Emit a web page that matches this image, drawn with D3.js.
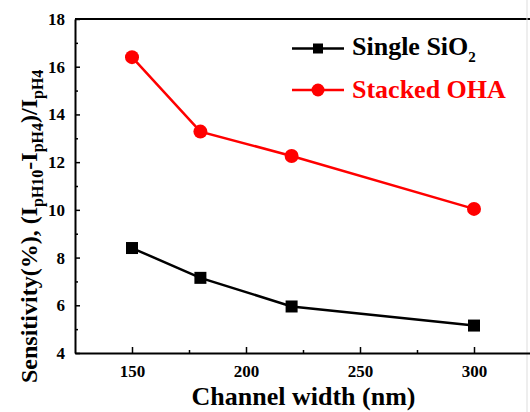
<!DOCTYPE html>
<html><head><meta charset="utf-8">
<script src="https://cdn.jsdelivr.net/npm/d3@7"></script>
<style>
html,body{margin:0;padding:0;background:#fff;}
svg text{font-family:"Liberation Serif","Times New Roman",Tinos,"DejaVu Serif",serif !important;font-weight:bold;}
</style></head>
<body><svg id="c" width="530" height="412"></svg>
<script>
const widths = [150, 180, 220, 300];
const singleSiO2 = [8.4, 7.15, 5.95, 5.15];
const stackedOHA = [16.4, 13.28, 12.26, 10.04];
const xTicks = [150, 200, 250, 300];
const yTicks = [4, 6, 8, 10, 12, 14, 16, 18];

const svg = d3.select("#c");
const L = 75, T = 19, R = 531, B = 353;
const x = d3.scaleLinear().domain([125, 325]).range([L, R]);
const y = d3.scaleLinear().domain([4, 18]).range([B, T]);

const g = svg.append("g");
g.append("line").attr("x1", L).attr("x2", 530).attr("y1", T).attr("y2", T).attr("stroke", "#000").attr("stroke-width", 2);
g.append("line").attr("x1", 527).attr("x2", 527).attr("y1", 0).attr("y2", 412).attr("stroke", "#ddd").attr("stroke-width", 1);

const xa = svg.append("g").attr("transform", `translate(0,${B})`)
  .call(d3.axisBottom(x).tickValues(xTicks).tickSizeInner(-6).tickSizeOuter(0).tickPadding(12));
xa.select(".domain").attr("stroke-width", 2);
xa.selectAll(".tick line").attr("stroke-width", 1.5);
xa.selectAll(".tick text").attr("font-size", 17).attr("fill", "#000");
svg.append("g").attr("transform", `translate(0,${B})`)
  .call(d3.axisBottom(x).tickValues([175, 225, 275]).tickSizeInner(-3).tickSizeOuter(0).tickFormat(""))
  .call(s => { s.select(".domain").remove(); s.selectAll(".tick line").attr("stroke-width", 1.5); });

const ya = svg.append("g").attr("transform", `translate(${L},0)`)
  .call(d3.axisLeft(y).tickValues(yTicks).tickSizeInner(-5).tickSizeOuter(0).tickPadding(10));
ya.select(".domain").attr("stroke-width", 2);
ya.selectAll(".tick line").attr("stroke-width", 1.5);
ya.selectAll(".tick text").attr("font-size", 17).attr("fill", "#000");
svg.append("g").attr("transform", `translate(${L},0)`)
  .call(d3.axisLeft(y).tickValues([5, 7, 9, 11, 13, 15, 17]).tickSizeInner(-3).tickSizeOuter(0).tickFormat(""))
  .call(s => { s.select(".domain").remove(); s.selectAll(".tick line").attr("stroke-width", 1.5); });

svg.append("text").attr("x", (190 + 417) / 2).attr("y", 405).attr("text-anchor", "middle")
  .attr("font-size", 26).text("Channel width (nm)");

const yt = svg.append("text").attr("transform", "translate(37,383) rotate(-90)").attr("font-size", 24);
yt.append("tspan").text("Sensitivity(%), (I");
yt.append("tspan").attr("dy", 6).attr("font-size", 16).text("pH10");
yt.append("tspan").attr("dy", -6).text("-I");
yt.append("tspan").attr("dy", 6).attr("font-size", 16).text("pH4");
yt.append("tspan").attr("dy", -6).text(")/I");
yt.append("tspan").attr("dy", 6).attr("font-size", 16).text("pH4");

const line = d3.line().x((d, i) => x(widths[i])).y(d => y(d));
function series(vals, color, shape) {
  svg.append("path").datum(vals).attr("d", line).attr("fill", "none").attr("stroke", color).attr("stroke-width", 2.5);
  if (shape === "square") {
    svg.selectAll(null).data(vals).enter().append("rect")
      .attr("x", (d, i) => x(widths[i]) - 6).attr("y", d => y(d) - 6)
      .attr("width", 12).attr("height", 12).attr("fill", color);
  } else {
    svg.selectAll(null).data(vals).enter().append("circle")
      .attr("cx", (d, i) => x(widths[i])).attr("cy", d => y(d)).attr("r", 7).attr("fill", color);
  }
}
series(singleSiO2, "#000", "square");
series(stackedOHA, "#ff0000", "circle");

const lg = svg.append("g");
lg.append("line").attr("x1", 292).attr("x2", 344).attr("y1", 48.5).attr("y2", 48.5).attr("stroke", "#000").attr("stroke-width", 2.5);
lg.append("rect").attr("x", 313).attr("y", 43.5).attr("width", 10).attr("height", 10).attr("fill", "#000");
lg.append("line").attr("x1", 292).attr("x2", 344).attr("y1", 90).attr("y2", 90).attr("stroke", "#ff0000").attr("stroke-width", 2.5);
lg.append("circle").attr("cx", 318).attr("cy", 90).attr("r", 6.5).attr("fill", "#ff0000");
const t1 = lg.append("text").attr("x", 352).attr("y", 55).attr("font-size", 26).attr("fill", "#000");
t1.append("tspan").text("Single SiO");
t1.append("tspan").attr("dy", 7).attr("font-size", 15).text("2");
lg.append("text").attr("x", 352).attr("y", 97.5).attr("font-size", 26).attr("fill", "#ff0000").text("Stacked OHA");
</script></body></html>
